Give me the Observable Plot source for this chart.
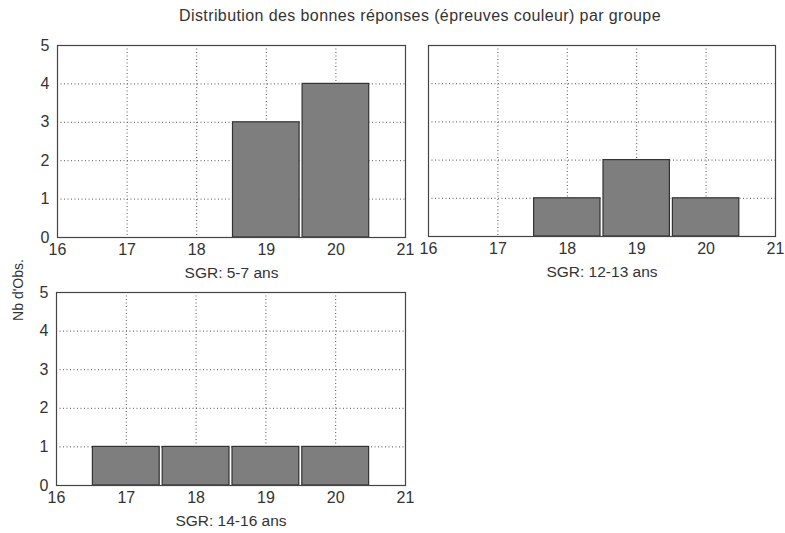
<!DOCTYPE html>
<html>
<head>
<meta charset="utf-8">
<script src="https://cdn.jsdelivr.net/npm/d3@7"></script>
<script src="https://cdn.jsdelivr.net/npm/@observablehq/plot@0.6"></script>
<style>
  html, body { margin: 0; padding: 0; background: #fff; }
  #root { position: relative; width: 785px; height: 533px; overflow: hidden; font-family: "Liberation Sans", Arial, sans-serif; color: #333; }
  .abs { position: absolute; }
  #title { left: 0; width: 840px; top: 7px; text-align: center; font-size: 16px; letter-spacing: 0.4px; }
  #ylab { left: 18px; top: 290px; transform: translate(-50%, -50%) rotate(-90deg); font-size: 14px; white-space: nowrap; }
  #root svg g[aria-label="x-axis tick label"], #root svg g[aria-label="y-axis tick label"],
  #root svg g[aria-label="x-axis tick label"] text, #root svg g[aria-label="y-axis tick label"] text { font-size: 16px; }
  #root svg g[aria-label="x-axis label"], #root svg g[aria-label="x-axis label"] text { font-size: 15.5px; }
</style>
</head>
<body>
<div id="root">
  <div id="title" class="abs"></div>
  <div id="ylab" class="abs"></div>
</div>
<script>
const titleText = "Distribution des bonnes réponses (épreuves couleur) par groupe";
const yLabelText = "Nb d'Obs.";
const groups = ["SGR: 5-7 ans", "SGR: 12-13 ans", "SGR: 14-16 ans"];
const scores = [17, 18, 19, 20];
const counts5_7 = [0, 0, 3, 4];
const counts12_13 = [0, 1, 2, 1];
const counts14_16 = [1, 1, 1, 1];
const xTicks = [16, 17, 18, 19, 20, 21];
const yTicks = [0, 1, 2, 3, 4, 5];

document.getElementById("title").textContent = titleText;
document.getElementById("ylab").textContent = yLabelText;

const panels = [
  {label: groups[0], counts: counts5_7, left: 57, top: 45, w: 348, h: 192, yAxis: true},
  {label: groups[1], counts: counts12_13, left: 428, top: 45, w: 347, h: 191, yAxis: false},
  {label: groups[2], counts: counts14_16, left: 56, top: 292, w: 349, h: 193, yAxis: true}
];

const mL = 30, mR = 12, mT = 5, mB = 45;
const root = document.getElementById("root");

for (const p of panels) {
  const data = scores.map((s, i) => ({score: s, count: p.counts[i]})).filter(d => d.count > 0);
  const marks = [
    Plot.gridX(xTicks.slice(1, -1), {stroke: "#555", strokeOpacity: 1, strokeDasharray: "1,2.5"}),
    Plot.gridY(yTicks.slice(1, -1), {stroke: "#555", strokeOpacity: 1, strokeDasharray: "1,2.5"}),
    Plot.rect(data, {
      x1: d => d.score - 0.5, x2: d => d.score + 0.5, y1: 0, y2: "count",
      fill: "#7e7e7e", stroke: "#333", strokeWidth: 1.2, insetLeft: 1.5, insetRight: 1.5
    }),
    Plot.frame({stroke: "#444", strokeWidth: 1.2}),
    Plot.axisX(xTicks, {tickSize: 0, tickPadding: 6, label: p.label, labelAnchor: "center", labelArrow: "none", labelOffset: 40})
  ];
  if (p.yAxis) marks.push(Plot.axisY(yTicks, {tickSize: 0, tickPadding: 8, label: null}));
  const chart = Plot.plot({
    width: p.w + mL + mR,
    height: p.h + mT + mB,
    marginLeft: mL, marginRight: mR, marginTop: mT, marginBottom: mB,
    style: {fontFamily: '"Liberation Sans", Arial, sans-serif', fontSize: "14.5px", color: "#333", background: "transparent", overflow: "visible"},
    x: {domain: [16, 21], label: p.label},
    y: {domain: [0, 5], label: null, axis: p.yAxis ? undefined : null},
    marks
  });
  chart.style.position = "absolute";
  chart.style.left = (p.left - mL) + "px";
  chart.style.top = (p.top - mT) + "px";
  root.appendChild(chart);
}
</script>
</body>
</html>
